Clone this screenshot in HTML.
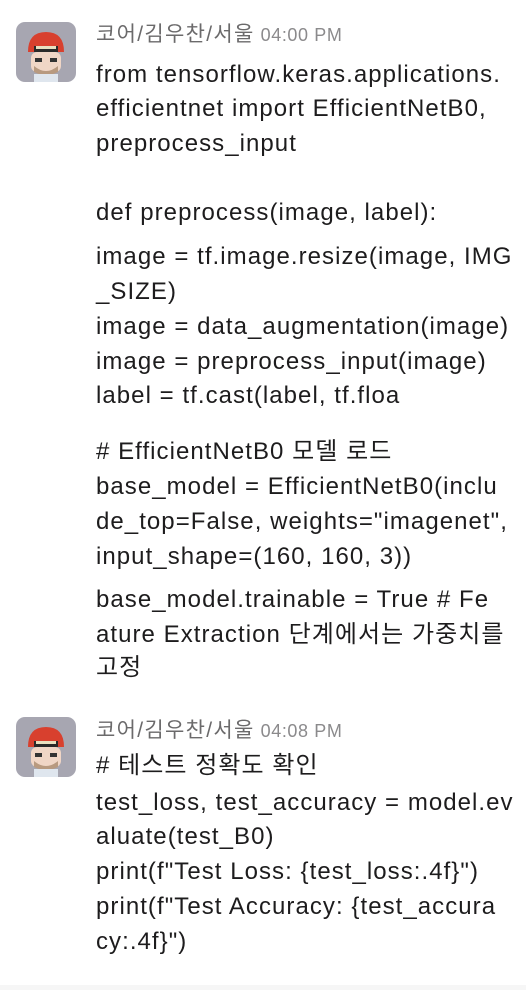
<!DOCTYPE html>
<html><head><meta charset="utf-8"><style>
body{margin:0;width:526px;height:990px;background:#fff;position:relative;overflow:hidden;font-family:"Liberation Sans","Noto Sans CJK KR",sans-serif;}
.l{position:absolute;left:96px;white-space:nowrap;font-size:24px;letter-spacing:1.05px;line-height:34px;color:#1d1c1d;}
.h{position:absolute;left:96px;white-space:nowrap;font-size:21px;letter-spacing:1.3px;line-height:26px;color:#6b6a6b;}
.h span{font-size:18px;letter-spacing:0.6px;color:#8b8a8c;margin-left:6px;}
.av{position:absolute;left:16px;width:60px;height:60px;border-radius:9px;background:#a7a6b1;overflow:hidden;}
.bot{position:absolute;left:0;top:985px;width:526px;height:5px;background:#f6f6f6;}
</style></head><body>
<div class="av" style="top:22px"><svg width="60" height="60" viewBox="0 0 60 60">
<path d="M12 30 Q12 10 30 10 Q48 10 48 30 Z" fill="#d8402e"/>
<rect x="18" y="24" width="24" height="6" fill="#2a2a2a"/>
<rect x="20" y="24" width="20" height="3" fill="#e8e0c0"/>
<rect x="15" y="30" width="30" height="20" rx="6" fill="#f0d6c6"/>
<rect x="19" y="36" width="7" height="4" fill="#333"/><rect x="34" y="36" width="7" height="4" fill="#333"/>
<path d="M18 44 Q30 54 42 44 L42 50 Q30 56 18 50Z" fill="#b89a80"/>
<rect x="18" y="52" width="24" height="8" fill="#dfe6ee"/>
</svg></div>
<div class="h" style="top:22px">코어/김우찬/서울<span>04:00 PM</span></div>
<div class="l" style="top:58px">from tensorflow.keras.applications.</div>
<div class="l" style="top:92px">efficientnet import EfficientNetB0,</div>
<div class="l" style="top:127px">preprocess_input</div>
<div class="l" style="top:196px">def preprocess(image, label):</div>
<div class="l" style="top:240px">image = tf.image.resize(image, IMG</div>
<div class="l" style="top:275px">_SIZE)</div>
<div class="l" style="top:310px">image = data_augmentation(image)</div>
<div class="l" style="top:345px">image = preprocess_input(image)</div>
<div class="l" style="top:379px">label = tf.cast(label, tf.floa</div>
<div class="l" style="top:435px"># EfficientNetB0 모델 로드</div>
<div class="l" style="top:470px">base_model = EfficientNetB0(inclu</div>
<div class="l" style="top:505px">de_top=False, weights="imagenet",</div>
<div class="l" style="top:540px">input_shape=(160, 160, 3))</div>
<div class="l" style="top:583px">base_model.trainable = True # Fe</div>
<div class="l" style="top:618px">ature Extraction 단계에서는 가중치를</div>
<div class="l" style="top:651px">고정</div>
<div class="av" style="top:717px"><svg width="60" height="60" viewBox="0 0 60 60">
<path d="M12 30 Q12 10 30 10 Q48 10 48 30 Z" fill="#d8402e"/>
<rect x="18" y="24" width="24" height="6" fill="#2a2a2a"/>
<rect x="20" y="24" width="20" height="3" fill="#e8e0c0"/>
<rect x="15" y="30" width="30" height="20" rx="6" fill="#f0d6c6"/>
<rect x="19" y="36" width="7" height="4" fill="#333"/><rect x="34" y="36" width="7" height="4" fill="#333"/>
<path d="M18 44 Q30 54 42 44 L42 50 Q30 56 18 50Z" fill="#b89a80"/>
<rect x="18" y="52" width="24" height="8" fill="#dfe6ee"/>
</svg></div>
<div class="h" style="top:718px">코어/김우찬/서울<span>04:08 PM</span></div>
<div class="l" style="top:749px"># 테스트 정확도 확인</div>
<div class="l" style="top:786px">test_loss, test_accuracy = model.ev</div>
<div class="l" style="top:820px">aluate(test_B0)</div>
<div class="l" style="top:855px">print(f"Test Loss: {test_loss:.4f}")</div>
<div class="l" style="top:890px">print(f"Test Accuracy: {test_accura</div>
<div class="l" style="top:925px">cy:.4f}")</div>
<div class="bot"></div>
</body></html>
